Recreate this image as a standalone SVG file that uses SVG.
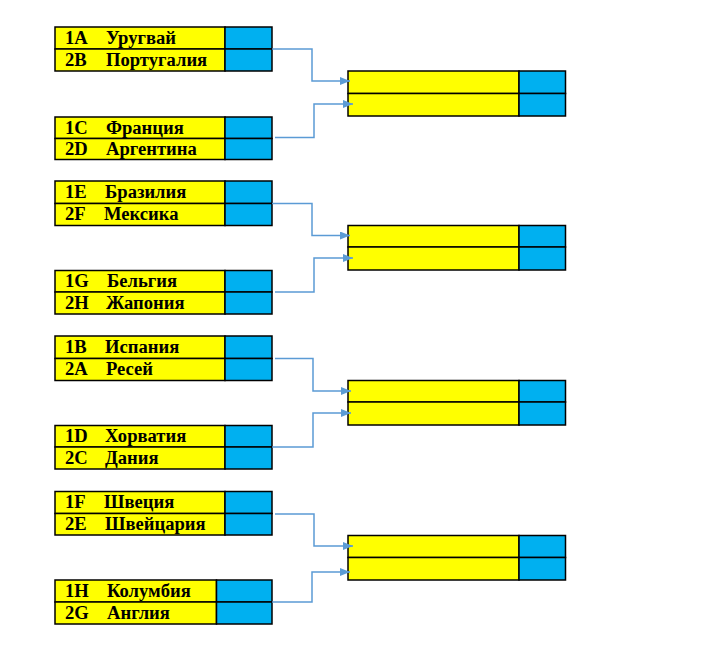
<svg xmlns="http://www.w3.org/2000/svg" width="727" height="658" viewBox="0 0 727 658">
<style>
.y{fill:#FFFF00;stroke:#000;stroke-width:1.5}
.b{fill:#00B0F0;stroke:#000;stroke-width:1.5}
.t{font-family:"Liberation Serif","Times New Roman",serif;font-weight:bold;font-size:18.6px;fill:#000}
.c{fill:none;stroke:#5B9BD5;stroke-width:1.5;marker-end:url(#ah)}
</style>
<defs>
<marker id="ah" markerUnits="userSpaceOnUse" markerWidth="11" markerHeight="9" refX="10" refY="4" orient="auto">
<path d="M0,0 L10,4 L0,8 z" fill="#5B9BD5"/>
</marker>
</defs>
<rect width="727" height="658" fill="#fff"/>

<g id="m1a">
<rect class="y" x="55" y="27" width="170" height="22"/><rect class="b" x="225" y="27" width="47" height="22"/>
<rect class="y" x="55" y="49" width="170" height="22"/><rect class="b" x="225" y="49" width="47" height="22"/>
<text class="t" x="65" y="44">1A</text><text class="t" x="106" y="44">Уругвай</text>
<text class="t" x="65" y="66">2B</text><text class="t" x="106" y="66">Португалия</text>
</g>
<g id="m1b">
<rect class="y" x="55" y="117" width="170" height="21.5"/><rect class="b" x="225" y="117" width="47" height="21.5"/>
<rect class="y" x="55" y="138.5" width="170" height="21"/><rect class="b" x="225" y="138.5" width="47" height="21"/>
<text class="t" x="65" y="133.5">1C</text><text class="t" x="106" y="133.5">Франция</text>
<text class="t" x="65" y="155">2D</text><text class="t" x="106" y="155">Аргентина</text>
</g>
<g id="r1">
<rect class="y" x="348" y="71" width="171" height="22.5"/><rect class="b" x="519" y="71" width="46.5" height="22.5"/>
<rect class="y" x="348" y="93.5" width="171" height="22.5"/><rect class="b" x="519" y="93.5" width="46.5" height="22.5"/>
</g>

<g id="m2a">
<rect class="y" x="55" y="181" width="170" height="22.5"/><rect class="b" x="225" y="181" width="47" height="22.5"/>
<rect class="y" x="55" y="203.5" width="170" height="22"/><rect class="b" x="225" y="203.5" width="47" height="22"/>
<text class="t" x="65" y="198">1E</text><text class="t" x="105" y="198">Бразилия</text>
<text class="t" x="65" y="220">2F</text><text class="t" x="104" y="220">Мексика</text>
</g>
<g id="m2b">
<rect class="y" x="55" y="270.5" width="170" height="21.5"/><rect class="b" x="225" y="270.5" width="47" height="21.5"/>
<rect class="y" x="55" y="292" width="170" height="22"/><rect class="b" x="225" y="292" width="47" height="22"/>
<text class="t" x="65" y="287">1G</text><text class="t" x="107" y="287">Бельгия</text>
<text class="t" x="65" y="309">2H</text><text class="t" x="106" y="309">Жапония</text>
</g>
<g id="r2">
<rect class="y" x="348" y="225.5" width="171" height="21.5"/><rect class="b" x="519" y="225.5" width="46.5" height="21.5"/>
<rect class="y" x="348" y="247" width="171" height="23"/><rect class="b" x="519" y="247" width="46.5" height="23"/>
</g>

<g id="m3a">
<rect class="y" x="55" y="336" width="170" height="22.5"/><rect class="b" x="225" y="336" width="47" height="22.5"/>
<rect class="y" x="55" y="358.5" width="170" height="22"/><rect class="b" x="225" y="358.5" width="47" height="22"/>
<text class="t" x="65" y="353">1B</text><text class="t" x="105" y="353">Испания</text>
<text class="t" x="65" y="375">2A</text><text class="t" x="106" y="375">Ресей</text>
</g>
<g id="m3b">
<rect class="y" x="55" y="425.5" width="170" height="21.5"/><rect class="b" x="225" y="425.5" width="47" height="21.5"/>
<rect class="y" x="55" y="447" width="170" height="22"/><rect class="b" x="225" y="447" width="47" height="22"/>
<text class="t" x="65" y="442">1D</text><text class="t" x="105" y="442">Хорватия</text>
<text class="t" x="65" y="464">2C</text><text class="t" x="105" y="464">Дания</text>
</g>
<g id="r3">
<rect class="y" x="348" y="380.5" width="171" height="21.5"/><rect class="b" x="519" y="380.5" width="46.5" height="21.5"/>
<rect class="y" x="348" y="402" width="171" height="23"/><rect class="b" x="519" y="402" width="46.5" height="23"/>
</g>

<g id="m4a">
<rect class="y" x="55" y="491.5" width="170" height="22"/><rect class="b" x="225" y="491.5" width="47" height="22"/>
<rect class="y" x="55" y="513.5" width="170" height="21.5"/><rect class="b" x="225" y="513.5" width="47" height="21.5"/>
<text class="t" x="65" y="508">1F</text><text class="t" x="104" y="508">Швеция</text>
<text class="t" x="65" y="530">2E</text><text class="t" x="105" y="530">Швейцария</text>
</g>
<g id="m4b">
<rect class="y" x="55" y="580" width="161.5" height="22"/><rect class="b" x="216.5" y="580" width="55.5" height="22"/>
<rect class="y" x="55" y="602" width="161.5" height="22"/><rect class="b" x="216.5" y="602" width="55.5" height="22"/>
<text class="t" x="65" y="597">1H</text><text class="t" x="107" y="597">Колумбия</text>
<text class="t" x="65" y="619">2G</text><text class="t" x="107" y="619">Англия</text>
</g>
<g id="r4">
<rect class="y" x="348" y="535.5" width="171" height="22"/><rect class="b" x="519" y="535.5" width="46.5" height="22"/>
<rect class="y" x="348" y="557.5" width="171" height="22.5"/><rect class="b" x="519" y="557.5" width="46.5" height="22.5"/>
</g>

<g id="connectors">
<path class="c" d="M272,49 H312 V81 H350"/>
<path class="c" d="M275,137.5 H314 V104 H353"/>
<path class="c" d="M272,203.5 H312 V235.5 H350"/>
<path class="c" d="M275,292 H314 V258 H353"/>
<path class="c" d="M275,358.5 H313 V391 H351"/>
<path class="c" d="M272,447 H313 V413 H351"/>
<path class="c" d="M275,514 H314 V546 H353"/>
<path class="c" d="M272,602 H312 V572 H350"/>
</g>
</svg>
